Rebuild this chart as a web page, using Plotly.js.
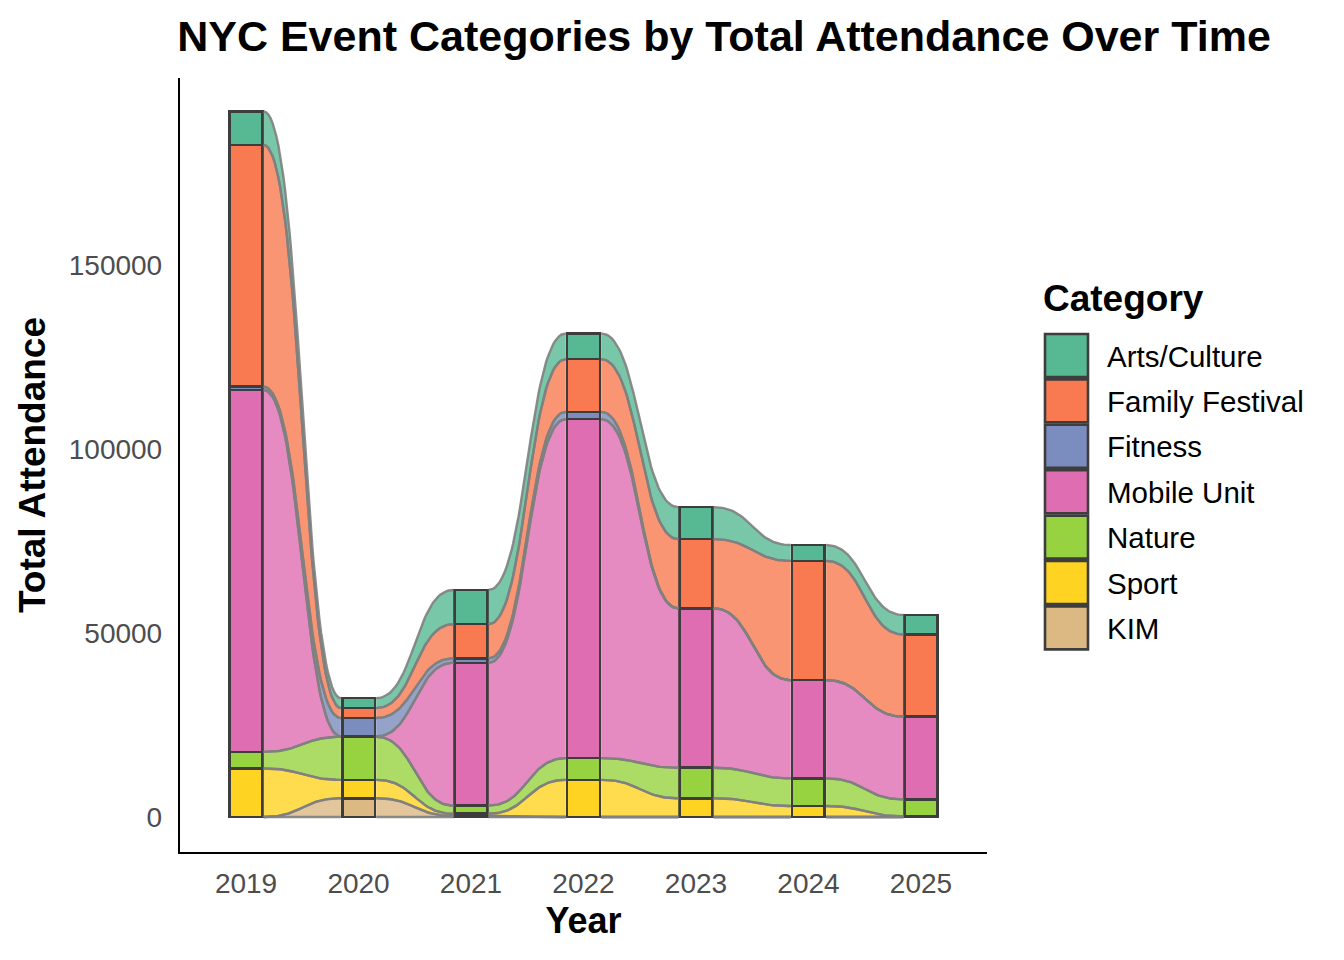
<!DOCTYPE html>
<html>
<head>
<meta charset="utf-8">
<script src="https://cdn.plot.ly/plotly-3.0.1.min.js"></script>
<style>
  html, body { margin: 0; padding: 0; background: #fff; }
  #chart { width: 1344px; height: 960px; }
</style>
</head>
<body>
<div id="chart"></div>
<script>
// ---- data ----
const years = [2019, 2020, 2021, 2022, 2023, 2024, 2025];
const categories = ['Arts/Culture', 'Family Festival', 'Fitness', 'Mobile Unit', 'Nature', 'Sport', 'KIM'];

const artsCulture    = [9100, 2700, 9300, 7000, 8700, 4300, 5300];
const familyFestival = [65700, 2700, 9300, 14300, 18800, 32400, 22300];
const fitness        = [900, 5000, 1200, 2000, 0, 0, 0];
const mobileUnit     = [98300, 100, 38800, 92100, 43300, 26700, 22500];
const nature         = [4500, 11700, 2200, 5900, 8300, 7500, 4600];
const sport          = [13200, 5000, 600, 10100, 5100, 3000, 200];
const kim            = [0, 5100, 300, 0, 0, 0, 0];

const barColors  = ['#56B994', '#F97A50', '#7B8CBE', '#DE6EB1', '#97D340', '#FED321', '#DCB882'];
const flowColors = ['rgba(86,185,148,0.8)', 'rgba(249,122,80,0.8)', 'rgba(123,140,190,0.8)',
                    'rgba(222,110,177,0.8)', 'rgba(151,211,64,0.8)', 'rgba(254,211,33,0.8)',
                    'rgba(220,184,130,0.8)'];

const series = [artsCulture, familyFestival, fitness, mobileUnit, nature, sport, kim];

// ---- plot geometry (pixels of the 1344x960 canvas) ----
const W = 1344, H = 960;
const M = { l: 180, r: 357, t: 78, b: 108 };
const plotW = W - M.l - M.r, plotH = H - M.t - M.b;
const barWidth = 0.29;
const gapX = 0.012;          // keeps the ribbons off the dark bar outline
const FONT = 'Liberation Sans, Arial, Helvetica, sans-serif';
const FLOW_LINE = { color: 'rgba(128,128,128,0.9)', width: 2.4 };

// stack from the bottom: KIM first, Arts/Culture last
const order = [6, 5, 4, 3, 2, 1, 0];

// lower edge of each category in each year
const lower = categories.map(() => years.map(() => 0));
years.forEach((y, j) => {
  let acc = 0;
  order.forEach(ci => { lower[ci][j] = acc; acc += series[ci][j]; });
});

// smooth ribbon edge between two bars (cubic bezier, flat at both ends)
function edge(x0, y0, x1, y1, n) {
  const k = 0.5, d = x1 - x0, xs = [], ys = [];
  for (let i = 0; i <= n; i++) {
    const t = i / n;
    const bx = 3 * t * (1 - t) * (1 - t) * k + 3 * t * t * (1 - t) * (1 - k) + t * t * t;
    const by = 3 * t * t - 2 * t * t * t;
    xs.push(x0 + d * bx);
    ys.push(y0 + (y1 - y0) * by);
  }
  return { xs, ys };
}

const traces = [];
const edgeLines = [];

// flows: fill polygons without outline, then the curved edges as lines
order.forEach(ci => {
  for (let j = 0; j < years.length - 1; j++) {
    const xa = years[j] + barWidth / 2 + gapX, xb = years[j + 1] - barWidth / 2 - gapX;
    const top = edge(xa, lower[ci][j] + series[ci][j], xb, lower[ci][j + 1] + series[ci][j + 1], 48);
    const bot = edge(xa, lower[ci][j], xb, lower[ci][j + 1], 48);
    traces.push({
      type: 'scatter',
      mode: 'lines',
      x: top.xs.concat(bot.xs.slice().reverse()),
      y: top.ys.concat(bot.ys.slice().reverse()),
      fill: 'toself',
      fillcolor: flowColors[ci],
      line: { width: 0, color: 'rgba(0,0,0,0)' },
      hoverinfo: 'skip',
      showlegend: false,
    });
    [top, bot].forEach(e => edgeLines.push({
      type: 'scatter', mode: 'lines', x: e.xs, y: e.ys,
      line: FLOW_LINE, hoverinfo: 'skip', showlegend: false,
    }));
  }
});
traces.push(...edgeLines);

// strata (stacked bars)
order.forEach(ci => {
  traces.push({
    type: 'bar',
    name: categories[ci],
    x: years,
    y: series[ci].map(v => (v > 0 ? v : null)),
    width: barWidth,
    marker: { color: barColors[ci], line: { color: '#3d3d3d', width: 2.6 } },
    showlegend: false,
  });
});

// ---- hand-made legend with big swatches ----
const px = x => (x - M.l) / plotW;
const py = y => (H - M.b - y) / plotH;
const shapes = [];
const annotations = [{
  text: '<b>Category</b>', xref: 'paper', yref: 'paper',
  x: px(1041), y: py(298), xanchor: 'left', yanchor: 'middle', showarrow: false,
  font: { family: FONT, size: 37, color: '#000' },
}];
categories.forEach((c, i) => {
  const top = 334 + i * 45.4;
  shapes.push({
    type: 'rect', xref: 'paper', yref: 'paper',
    x0: px(1045), x1: px(1088), y0: py(top), y1: py(top + 43),
    fillcolor: barColors[i], line: { color: '#3d3d3d', width: 2.6 },
  });
  annotations.push({
    text: c, xref: 'paper', yref: 'paper',
    x: px(1105), y: py(top + 22), xanchor: 'left', yanchor: 'middle', showarrow: false,
    font: { family: FONT, size: 29.5, color: '#000' },
  });
});

const layout = {
  width: W,
  height: H,
  margin: M,
  barmode: 'stack',
  showlegend: false,
  paper_bgcolor: '#fff',
  plot_bgcolor: '#fff',
  font: { family: FONT, color: '#000' },
  title: {
    text: '<b>NYC Event Categories by Total Attendance Over Time</b>',
    font: { family: FONT, size: 43, color: '#000' },
    xref: 'paper', x: px(724), xanchor: 'center',
    yref: 'container', y: 1 - 36 / H, yanchor: 'middle',
  },
  xaxis: {
    range: [2018.413, 2025.587],
    tickvals: years,
    ticktext: years.map(String),
    tickfont: { family: FONT, size: 28, color: '#4d4d4d' },
    showline: true, linecolor: '#000', linewidth: 2.2,
    showgrid: false, zeroline: false, ticks: '',
    ticklabelstandoff: 5,
    title: { text: '<b>Year</b>', font: { family: FONT, size: 36, color: '#000' }, standoff: 10 },
  },
  yaxis: {
    range: [-9500, 200800],
    tickvals: [0, 50000, 100000, 150000],
    ticktext: ['0', '50000', '100000', '150000'],
    tickfont: { family: FONT, size: 28, color: '#4d4d4d' },
    showline: true, linecolor: '#000', linewidth: 2.2,
    showgrid: false, zeroline: false, ticks: '',
    ticklabelstandoff: 10,
    title: { text: '<b>Total Attendance</b>', font: { family: FONT, size: 37, color: '#000' }, standoff: 12 },
  },
  shapes,
  annotations,
};

Plotly.newPlot('chart', traces, layout, { displayModeBar: false, staticPlot: true });
</script>
</body>
</html>
